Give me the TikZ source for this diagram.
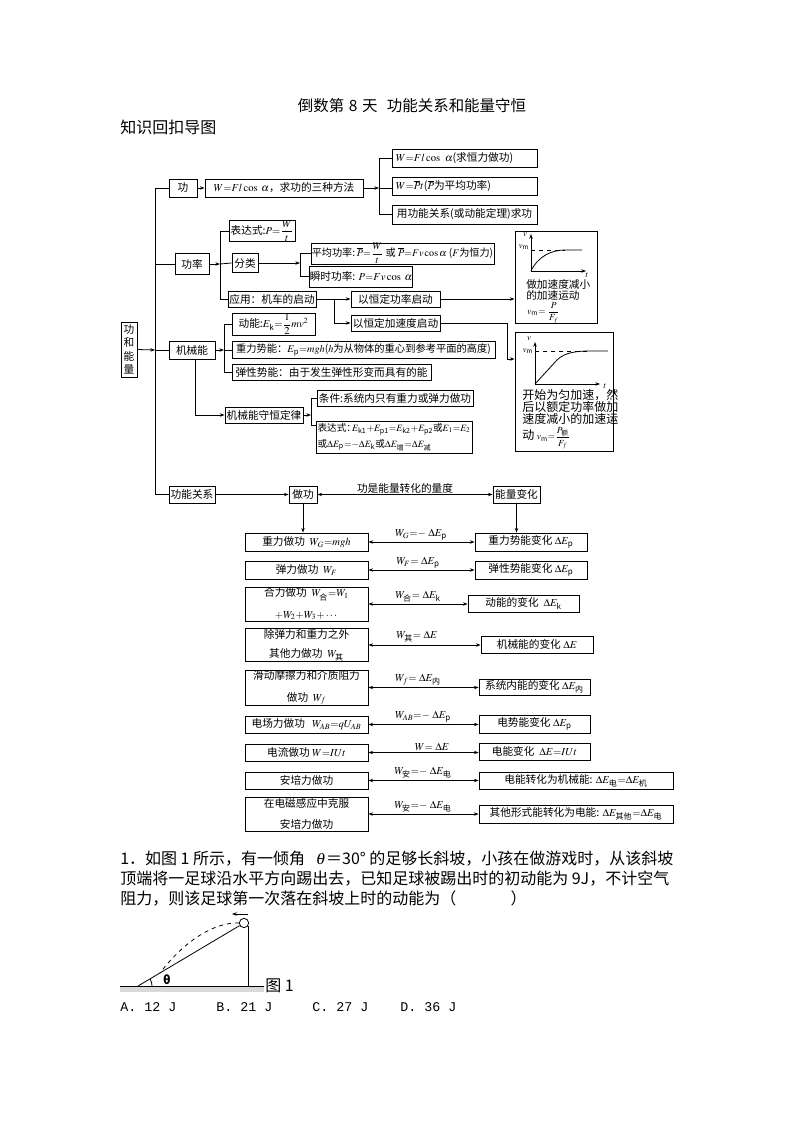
\documentclass[tikz,border=0pt]{standalone}
\usepackage{amsmath}
\usepackage{amssymb}
\usepackage{mathptmx}
\usepackage[no-math]{fontspec}
\setmainfont{Noto Sans CJK SC}
\newfontfamily\optfont{Liberation Mono}
\usepackage{tikz}
\usetikzlibrary{positioning,arrows.meta}
\tikzset{
  box/.style 2 args={draw,line width=0.65pt,inner sep=0pt,align=center,minimum width=#1*0.75pt,minimum height=#2*0.75pt,font=\fontsize{8}{12}\selectfont\boldmath},
  lbox/.style 2 args={draw,line width=0.65pt,inner ysep=0pt,inner xsep=3pt,align=left,text width=#1*0.75pt-6pt,minimum height=#2*0.75pt,font=\fontsize{8}{12}\selectfont\boldmath},
  arr/.style={-{Stealth[length=3.5pt,width=2.6pt]}},
  dbl/.style={{Stealth[length=3.5pt,width=2.6pt]}-{Stealth[length=3.5pt,width=2.6pt]}},
  conn/.style={line width=0.6pt},
  lab/.style={inner sep=0pt,font=\fontsize{8}{10}\selectfont\boldmath},
  small/.style={inner sep=0pt,font=\fontsize{6.5}{7}\selectfont\boldmath},
  chartA/.style={inner sep=0pt,anchor=west,align=left,font=\fontsize{8}{8.25}\selectfont},
  chartB/.style={inner sep=0pt,anchor=west,align=left,font=\fontsize{9}{9}\selectfont},
  page/.style={inner sep=0pt,anchor=west,font=\fontsize{12}{15}\selectfont},
  opt/.style={inner sep=0pt,anchor=west,font=\fontsize{10}{12}\selectfont\optfont}
}
\begin{document}
\begin{tikzpicture}[x=0.75pt,y=-0.75pt]
  \useasboundingbox (0,0) rectangle (794,1123);
  \node[inner sep=0pt,font=\fontsize{11.6}{14}\selectfont](title) at (412,106){倒数第\hspace{0.3em}8\hspace{0.3em}天\hspace{0.6em}功能关系和能量守恒};
  \node[page](subtitle) at (120,127){知识回扣导图};

  \node[box={16}{55},font=\fontsize{8}{10}\selectfont](root) at (129,349.5){功\\和\\能\\量};
  \node[box={28}{18}](gong) at (183,188){功};
  \node[box={158}{18}](wf) at (284,188){$W{=}Fl\cos\ \alpha$，求功的三种方法};
  \node[lbox={145}{18}](wa) at (464.5,158){$W{=}Fl\cos\ \alpha$(求恒力做功)};
  \node[lbox={145}{18}](wb) at (464.5,186){$W{=}\overline{P}t$($\overline{P}$为平均功率)};
  \node[box={145}{19}](wc) at (464.5,214.5){用功能关系(或动能定理)求功};
  \node[box={66}{20}](bds) at (262,231){表达式:$P{=}\dfrac{W}{t}$};
  \node[box={34}{21}](gl) at (192,264){功率};
  \node[box={26}{19}](fl) at (245,263){分类};
  \node[box={183}{21},font=\fontsize{7.6}{12}\selectfont\boldmath](pj) at (402.5,253.5){平均功率:\,$\overline{P}{=}\dfrac{W}{t}$ 或 $\overline{P}{=}Fv\cos\alpha$ ($F$为恒力)};
  \node[box={100}{21}](ss) at (361,276.5){瞬时功率: $P{=}Fv\cos\ \alpha$};
  \node[box={88}{16}](yy) at (272,299){应用：机车的启动};
  \node[box={89}{16}](hgl) at (395.5,299){以恒定功率启动};
  \node[box={89}{16}](hjs) at (395.5,323){以恒定加速度启动};
  \node[box={46}{18}](jxn) at (192,350){机械能};
  \node[box={83}{22}](dn) at (273.5,324){动能:$E_{\text{k}}{=}\dfrac{1}{2}mv^2$};
  \node[box={263}{17},font=\fontsize{7.7}{12}\selectfont\boldmath](zl) at (363.5,350){重力势能：$E_{\text{p}}{=}mgh$($h$为从物体的重心到参考平面的高度)};
  \node[box={199}{16}](tx) at (331.5,372){弹性势能：由于发生弹性形变而具有的能};
  \node[box={78}{16}](sh) at (264,415){机械能守恒定律};
  \node[box={156}{16}](tj) at (395,398){条件:系统内只有重力或弹力做功};
  \node[box={156}{32},align=left,font=\fontsize{7.2}{12}\selectfont\boldmath](bdb) at (394,437){表达式：\hspace{-0.4em}$E_{\text{k1}}{+}E_{\text{p1}}{=}E_{\text{k2}}{+}E_{\text{p2}}$或$E_1{=}E_2$\\或$\Delta E_{\text{p}}{=}{-}\Delta E_{\text{k}}$或$\Delta E_{\text{增}}{=}\Delta E_{\text{减}}$};
  \node[box={46}{17}](gngx) at (192,494.5){功能关系};
  \node[box={28}{17}](zg) at (303,494.5){做功};
  \node[box={47}{17}](nl) at (516.5,494.5){能量变化};
  \node[lab](lianxi) at (405,488){功是能量转化的量度};

  \node[box={82}{92}](chtA) at (556,277){};
  \node[box={98}{119}](chtB) at (564,391.5){};

  \node[box={123}{18}](la) at (306.5,542){重力做功 \ $W_G{=}mgh$};
  \node[box={123}{18}](lb) at (306.5,570){弹力做功 \ $W_F$};
  \node[box={123}{34},font=\fontsize{8}{16}\selectfont\boldmath](lc) at (306.5,604){合力做功 \ $W_{\text{合}}{=}W_1$\\$+W_2{+}W_3{+}\cdots$};
  \node[box={123}{33},font=\fontsize{8}{14}\selectfont\boldmath](ld) at (306.5,645){除弹力和重力之外\\其他力做功 \ $W_{\text{其}}$};
  \node[box={123}{35},font=\fontsize{8}{16}\selectfont\boldmath](le) at (306.5,687.5){滑动摩擦力和介质阻力\\做功 \ $W_f$};
  \node[box={123}{17}](lf) at (306.5,724.5){电场力做功 \ \ $W_{AB}{=}qU_{AB}$};
  \node[box={123}{17}](lg) at (306.5,752.5){电流做功 $W{=}IUt$};
  \node[box={123}{17}](lh) at (306.5,780.5){安培力做功};
  \node[box={123}{34},font=\fontsize{8}{16}\selectfont\boldmath](li) at (306.5,814){在电磁感应中克服\\安培力做功};

  \node[box={112}{18}](ra) at (531,542){重力势能变化 $\Delta E_{\text{p}}$};
  \node[box={112}{18}](rb) at (531,570){弹性势能变化 $\Delta E_{\text{p}}$};
  \node[box={111}{17}](rc) at (523.5,603.5){动能的变化 \ $\Delta E_{\text{k}}$};
  \node[box={112}{17}](rd) at (537,644.5){机械能的变化 $\Delta E$};
  \node[box={111}{16}](re) at (534.5,687){系统内能的变化 $\Delta E_{\text{内}}$};
  \node[box={111}{18}](rf) at (534.5,724){电势能变化 $\Delta E_{\text{p}}$};
  \node[box={111}{17}](rg) at (534.5,751.5){电能变化 \ $\Delta E{=}IUt$};
  \node[box={194}{17}](rh) at (576,780.5){电能转化为机械能: $\Delta E_{\text{电}}{=}\Delta E_{\text{机}}$};
  \node[box={194}{18}](ri) at (576,814){其他形式能转化为电能: $\Delta E_{\text{其他}}{=}\Delta E_{\text{电}}$};

  \node[lab](ga) at (421,535){$W_G{=}{-}\ \Delta E_{\text{p}}$};
  \node[lab](gb) at (418,563){$W_F{=}\ \Delta E_{\text{p}}$};
  \node[lab](gc) at (418,597){$W_{\text{合}}{=}\ \Delta E_{\text{k}}$};
  \node[lab](gd) at (417,637){$W_{\text{其}}{=}\ \Delta E$};
  \node[lab](ge) at (418,680){$W_f{=}\ \Delta E_{\text{内}}$};
  \node[lab](gf) at (423,717){$W_{AB}{=}{-}\ \Delta E_{\text{p}}$};
  \node[lab](gg) at (432,747){$W{=}\ \Delta E$};
  \node[lab](gh) at (423,773){$W_{\text{安}}{=}{-}\ \Delta E_{\text{电}}$};
  \node[lab](gi) at (423,807){$W_{\text{安}}{=}{-}\ \Delta E_{\text{电}}$};

  \coordinate (busA) at (155,350);
  \coordinate (busB) at (220,264);
  \coordinate (busC) at (379,188);
  \coordinate (busD) at (300,263);
  \coordinate (busE) at (334,299);
  \coordinate (busF) at (224,350);
  \coordinate (busG) at (311,415);
  \coordinate (bendA) at (507,359);
  \coordinate (bdbIn) at (316,425);

  \draw[conn,arr] (root.east) -- (busA);
  \draw[conn] (busA) -- (jxn.west);
  \draw[conn] (gong.west) -| (busA);
  \draw[conn] (gngx.west) -| (busA);
  \draw[conn] (gl.west) -- (gl.west -| busA);
  \draw[conn,arr] (gong.east) -- (wf.west);
  \draw[conn,arr] (wf.east) -- (busC);
  \draw[conn] (busC) -- (wb.west |- busC);
  \draw[conn] (wa.west) -| (busC);
  \draw[conn] (wc.west) -| (busC);
  \draw[conn,arr] (gl.east) -- (busB);
  \draw[conn] (busB) -- (fl.west);
  \draw[conn] (bds.west) -| (busB);
  \draw[conn] (yy.west) -| (busB);
  \draw[conn,arr] (fl.east) -- (busD);
  \draw[conn] (pj.west) -| (busD);
  \draw[conn] (ss.west) -| (busD);
  \draw[conn,arr] (yy.east) -- (hgl.west);
  \draw[conn,arr] (busE) |- (hjs.west);
  \draw[conn,arr] (hgl.east) -- (hgl.east -| chtA.west);
  \draw[conn,arr] (hjs.east) -| (bendA) -- (bendA -| chtB.west);
  \draw[conn,arr] (jxn.east) -- (busF);
  \draw[conn] (busF) -- (zl.west);
  \draw[conn] (dn.west) -| (busF);
  \draw[conn] (tx.west) -| (busF);
  \draw[conn,arr] ([xshift=2.2pt]jxn.south) |- (sh.west);
  \draw[conn,arr] (sh.east) -- (busG);
  \draw[conn] (tj.west) -| (busG);
  \draw[conn] (bdbIn) -| (busG);
  \draw[conn,arr] (gngx.east) -- (zg.west);
  \draw[conn,dbl] (zg.east) -- (nl.west);
  \draw[conn,arr] (zg.south) -- (zg.south |- la.north);
  \draw[conn,arr] (nl.south) -- (nl.south |- ra.north);
  \foreach \lft/\rgt in {la/ra,lb/rb,lc/rc,ld/rd,le/re,lf/rf,lg/rg,lh/rh,li/ri}
    \draw[conn,dbl] (\lft.east) -- (\lft.east -| \rgt.west);

  \draw[conn,arr] (531,271) -- (531,234);
  \draw[conn,arr] (531,271) -- (586,271);
  \draw[conn,dashed,line width=0.45pt] (531,250) -- (565,250);
  \draw[conn] (531,271) .. controls (538,256) and (552,250) .. (565,250) -- (582,250);
  \node[small](ava) at (525,235){$v$};
  \node[small](avm) at (524,247){$v_{\text{m}}$};
  \node[small](avt) at (587,275){$t$};
  \node[chartA](atext) at (526,289.5){做加速度减小\\的加速运动};
  \node[chartA,font=\fontsize{7}{8}\selectfont\boldmath](aeq) at (527,313){$v_{\text{m}}{=}\ \dfrac{P}{F_f}$};

  \draw[conn,arr] (535,384) -- (535,342);
  \draw[conn,arr] (535,384) -- (600,384);
  \draw[conn,dashed,line width=0.45pt] (535,351) -- (590,351);
  \draw[conn] (535,384) -- (557,360) .. controls (565,352) and (578,351) .. (590,351) -- (608,351);
  \node[small](bva) at (529,339){$v$};
  \node[small](bvm) at (528,351){$v_{\text{m}}$};
  \node[small](bvt) at (605,386){$t$};
  \node[chartB](btext) at (522,406.5){开始为匀加速，然\\后以额定功率做加\\速度减小的加速运};
  \node[chartB](beq) at (522,438){动 {\fontsize{7}{8}\selectfont\boldmath$v_{\text{m}}{=}\dfrac{P_{\text{额}}}{F_f}$}};

  \node[inner sep=0pt,anchor=north west,align=left,font=\fontsize{12}{15}\selectfont](qtext) at (120,851){1．如图 1 所示，有一倾角\ \ \ $\theta$＝30° 的足够长斜坡，小孩在做游戏时，从该斜坡\\顶端将一足球沿水平方向踢出去，已知足球被踢出时的初动能为 9J，不计空气\\阻力，则该足球第一次落在斜坡上时的动能为（\hspace{3.4em}）};

  \fill[gray!30] (120,986) rectangle (264,992);
  \draw[conn] (120,986) -- (264,986);
  \node[draw,circle,conn,inner sep=0pt,minimum size=7pt](ball) at (244,923){};
  \coordinate (foot) at (138,986);
  \coordinate (land) at (160,973);
  \draw[conn] (foot) -- (ball);
  \draw[conn] (248,926) -- (248,986);
  \draw[conn,dashed] (ball.west) .. controls (215,922) and (185,940) .. (land);
  \draw[conn,arr] (248,914) -- (232,914);
  \draw[conn] (152,986) arc (0:-30:14);
  \node[inner sep=0pt,font=\bfseries\fontsize{9}{10}\selectfont](ang) at (167,980){θ};
  \node[page](figlab) at (265,986){图 1};

  \node[opt](opta) at (120,1007){A. 12 J};
  \node[opt](optb) at (216,1007){B. 21 J};
  \node[opt](optc) at (312,1007){C. 27 J};
  \node[opt](optd) at (400,1007){D. 36 J};
\end{tikzpicture}
\end{document}
